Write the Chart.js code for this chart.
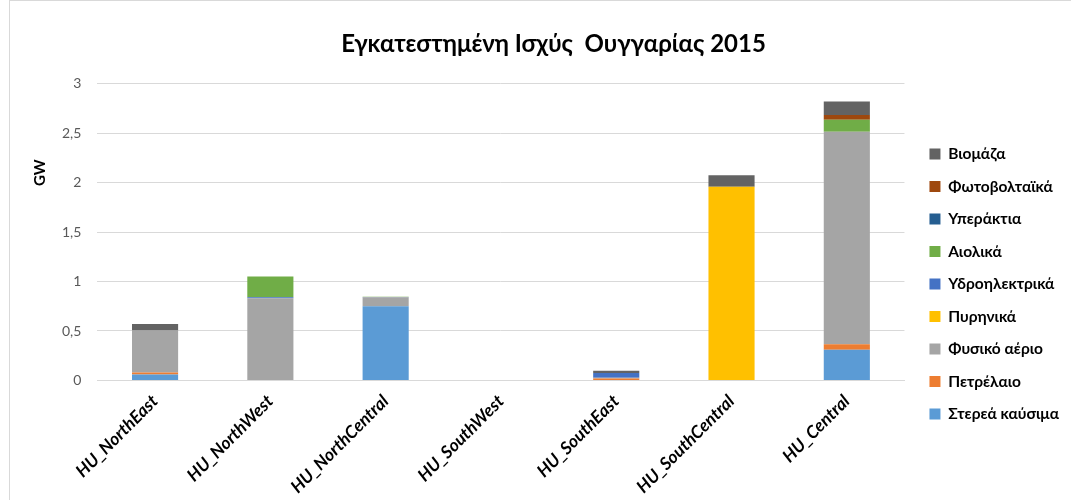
<!DOCTYPE html>
<html>
<head>
<meta charset="utf-8">
<script src="https://cdn.jsdelivr.net/npm/chart.js@4.4.1/dist/chart.umd.min.js"></script>
<style>
html,body{margin:0;padding:0;background:#fff;}
#wrap{position:absolute;left:0;top:0;width:1071px;height:500px;}
#frame{position:absolute;left:9px;top:0px;width:1080px;height:520px;border:1px solid #d9d9d9;box-sizing:border-box;}
canvas{position:absolute;left:0;top:0;}
</style>
</head>
<body>
<div id="wrap"><div id="frame"></div><canvas id="c" width="1071" height="500"></canvas></div>
<script>
const categories = ["HU_NorthEast","HU_NorthWest","HU_NorthCentral","HU_SouthWest","HU_SouthEast","HU_SouthCentral","HU_Central"];
const solidFuels = [0.06, 0, 0.75, 0, 0, 0, 0.31];
const oil        = [0.02, 0, 0, 0, 0.02, 0, 0.055];
const naturalGas = [0.425, 0.83, 0.09, 0, 0.007, 0, 2.15];
const nuclear    = [0, 0, 0, 0, 0, 1.96, 0];
const hydro      = [0, 0.01, 0.003, 0, 0.048, 0, 0];
const wind       = [0, 0.21, 0.003, 0, 0, 0, 0.122];
const offshore   = [0, 0, 0, 0, 0, 0, 0];
const solarPV    = [0, 0, 0, 0, 0, 0, 0.048];
const biomass    = [0.065, 0, 0, 0, 0.022, 0.115, 0.137];
const yTicks = [0, 0.5, 1, 1.5, 2, 2.5, 3];

const seriesNames = ["Στερεά καύσιμα","Πετρέλαιο","Φυσικό αέριο","Πυρηνικά","Υδροηλεκτρικά","Αιολικά","Υπεράκτια","Φωτοβολταϊκά","Βιομάζα"];
const seriesData = [solidFuels, oil, naturalGas, nuclear, hydro, wind, offshore, solarPV, biomass];
const seriesColors = ["#5B9BD5","#ED7D31","#A5A5A5","#FFC000","#4472C4","#70AD47","#255E91","#9E480E","#636363"];

const FONT = "Lato, 'Open Sans', sans-serif";

const gwTitle = {
  id: 'gwTitle',
  afterDraw(chart) {
    const ctx = chart.ctx;
    const a = chart.chartArea;
    ctx.save();
    ctx.translate(40, a.top + (a.bottom - a.top) * 0.30);
    ctx.rotate(-Math.PI / 2);
    ctx.font = "bold 15px " + FONT;
    ctx.fillStyle = "#000";
    ctx.textAlign = "center";
    ctx.textBaseline = "middle";
    ctx.fillText("GW", 0, 0);
    ctx.restore();
  }
};

const legendShift = {
  id: 'legendShift',
  afterLayout(chart) {
    const lg = chart.legend;
    if (!lg) return;
    lg.left += 8; lg.right += 8;
    lg.top += 34; lg.bottom += 34;
  }
};

new Chart(document.getElementById('c'), {
  type: 'bar',
  data: {
    labels: categories,
    datasets: seriesNames.map((n, i) => ({
      label: n,
      data: seriesData[i],
      backgroundColor: seriesColors[i],
      borderWidth: 0,
      barPercentage: 0.4,
      categoryPercentage: 1.0
    }))
  },
  options: {
    responsive: false,
    animation: false,
    devicePixelRatio: 1,
    layout: { padding: { left: 46, right: 10, top: 0, bottom: 0 } },
    plugins: {
      title: {
        display: true,
        text: "Εγκατεστημένη Ισχύς  Ουγγαρίας 2015",
        font: { family: FONT, size: 24, weight: 'bold' },
        color: "#000",
        padding: { top: 30, bottom: 25 }
      },
      legend: {
        position: 'right',
        reverse: true,
        labels: {
          boxWidth: 11,
          boxHeight: 11,
          padding: 17,
          color: "#000",
          font: { family: FONT, size: 15.5, weight: 'bold' }
        }
      },
      tooltip: { enabled: false }
    },
    scales: {
      x: {
        stacked: true,
        grid: { display: false },
        border: { display: true, color: "#d9d9d9" },
        ticks: {
          minRotation: 45, maxRotation: 45,
          padding: 2.5,
          color: "#000",
          font: { family: FONT, size: 17.5, weight: 'bold', style: 'italic' }
        }
      },
      y: {
        stacked: true,
        min: 0, max: 3,
        afterBuildTicks(scale) { scale.ticks = yTicks.map(v => ({ value: v })); },
        grid: { color: "#d9d9d9", drawTicks: false },
        border: { display: false },
        ticks: {
          padding: 16,
          color: "#595959",
          font: { family: FONT, size: 14 },
          callback: v => String(v).replace('.', ',')
        }
      }
    }
  },
  plugins: [gwTitle, legendShift]
});
</script>
</body>
</html>
